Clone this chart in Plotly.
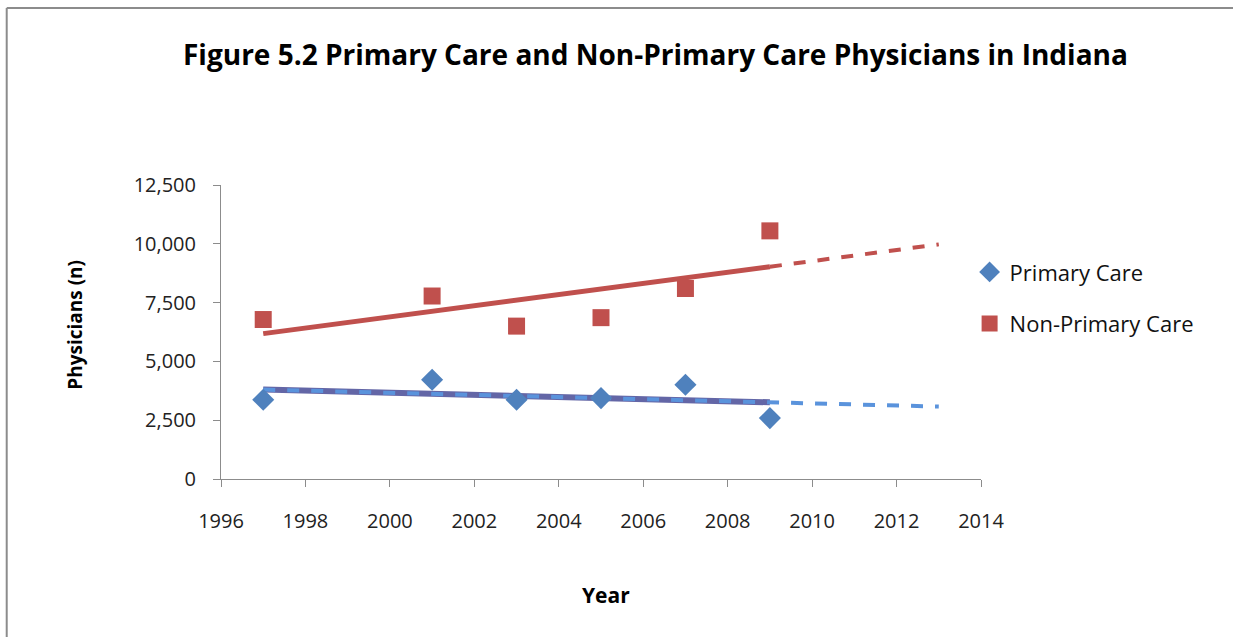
import numpy as np
import plotly.graph_objects as go

# Survey years and physician counts
years = [1997, 2001, 2003, 2005, 2007, 2009]
primary_care = [3370, 4220, 3370, 3440, 4010, 2590]
non_primary_care = [6780, 7780, 6500, 6860, 8100, 10550]

# Trend line spans: fitted range and forecast range
fit_years = [1997, 2009]
forecast_years = [1997, 2013]

x_ticks = [1996, 1998, 2000, 2002, 2004, 2006, 2008, 2010, 2012, 2014]
y_ticks = [0, 2500, 5000, 7500, 10000, 12500]

BLUE = "#4F81BD"
RED = "#C0504D"
BLUE_FIT = "#6366A6"
BLUE_FORECAST = "#5A93DC"
FONT = "Open Sans"


def linear_trend(xs, ys, span):
    slope, intercept = np.polyfit(xs, ys, 1)
    return [slope * x + intercept for x in span]


fig = go.Figure()

# Non-primary care trend: solid over the data range, dashed forecast beyond it
fig.add_trace(go.Scatter(
    x=fit_years, y=linear_trend(years, non_primary_care, fit_years),
    mode="lines", line=dict(color=RED, width=5), showlegend=False, hoverinfo="skip"))
fig.add_trace(go.Scatter(
    x=[2009, 2013], y=linear_trend(years, non_primary_care, [2009, 2013]),
    mode="lines", line=dict(color=RED, width=4, dash="dash"), showlegend=False, hoverinfo="skip"))

# Primary care trend: solid fit with dashed forecast drawn over it
fig.add_trace(go.Scatter(
    x=fit_years, y=linear_trend(years, primary_care, fit_years),
    mode="lines", line=dict(color=BLUE_FIT, width=6), showlegend=False, hoverinfo="skip"))
fig.add_trace(go.Scatter(
    x=forecast_years, y=linear_trend(years, primary_care, forecast_years),
    mode="lines", line=dict(color=BLUE_FORECAST, width=4, dash="dash"), showlegend=False, hoverinfo="skip"))

# Data points
fig.add_trace(go.Scatter(
    x=years, y=primary_care, mode="markers", name="Primary Care", legendgroup="pc",
    marker=dict(symbol="diamond", size=17, color=BLUE)))
fig.add_trace(go.Scatter(
    x=years, y=non_primary_care, mode="markers", name="Non-Primary Care", legendgroup="npc",
    marker=dict(symbol="square", size=17, color=RED)))

axis_common = dict(
    showgrid=False, zeroline=False, showline=True, linecolor="#8C8C8C", linewidth=1,
    ticks="outside", ticklen=7, tickcolor="#8C8C8C",
    tickfont=dict(family=FONT, size=20, color="#222222"),
)

fig.update_xaxes(range=[1996, 2014], tickvals=x_ticks, ticktext=[str(t) for t in x_ticks],
                 ticklabelstandoff=17, **axis_common)
fig.update_yaxes(range=[0, 12500], tickvals=y_ticks, ticktext=[f"{t:,}" for t in y_ticks],
                 ticklabelstandoff=13, **axis_common)

# Chart frame: only its left and top edges fall inside the page
frame_left = (7 - 221) / 759
frame_top = (479 - 8) / 294
page_right = (1233 - 221) / 759
page_bottom = (479 - 637) / 294

fig.update_layout(
    width=1233, height=637,
    margin=dict(l=221, r=252, t=185, b=158),
    paper_bgcolor="white", plot_bgcolor="white",
    font=dict(family=FONT, color="#000000"),
    legend=dict(x=0.985, y=0.775, xanchor="left", yanchor="top",
                font=dict(family=FONT, size=22, color="#111111"),
                tracegroupgap=20, bgcolor="rgba(0,0,0,0)"),
    annotations=[
        dict(text="<b>Figure 5.2 Primary Care and Non-Primary Care Physicians in Indiana</b>",
             xref="paper", yref="paper", x=0.572, y=1.446, xanchor="center", yanchor="middle",
             showarrow=False, font=dict(family=FONT, size=28, color="#000000")),
        dict(text="<b>Physicians (n)</b>", textangle=-90,
             xref="paper", yref="paper", x=-0.1924, y=0.524, xanchor="center", yanchor="middle",
             showarrow=False, font=dict(family=FONT, size=19, color="#000000")),
        dict(text="<b>Year</b>",
             xref="paper", yref="paper", x=0.507, y=-0.3946, xanchor="center", yanchor="middle",
             showarrow=False, font=dict(family=FONT, size=21, color="#000000")),
    ],
    shapes=[
        dict(type="line", xref="paper", yref="paper",
             x0=frame_left, x1=frame_left, y0=page_bottom, y1=frame_top,
             line=dict(color="#8C8C8C", width=2), layer="below"),
        dict(type="line", xref="paper", yref="paper",
             x0=frame_left, x1=page_right, y0=frame_top, y1=frame_top,
             line=dict(color="#8C8C8C", width=2), layer="below"),
    ],
)

fig.write_html("out.html", config={"displayModeBar": False})
